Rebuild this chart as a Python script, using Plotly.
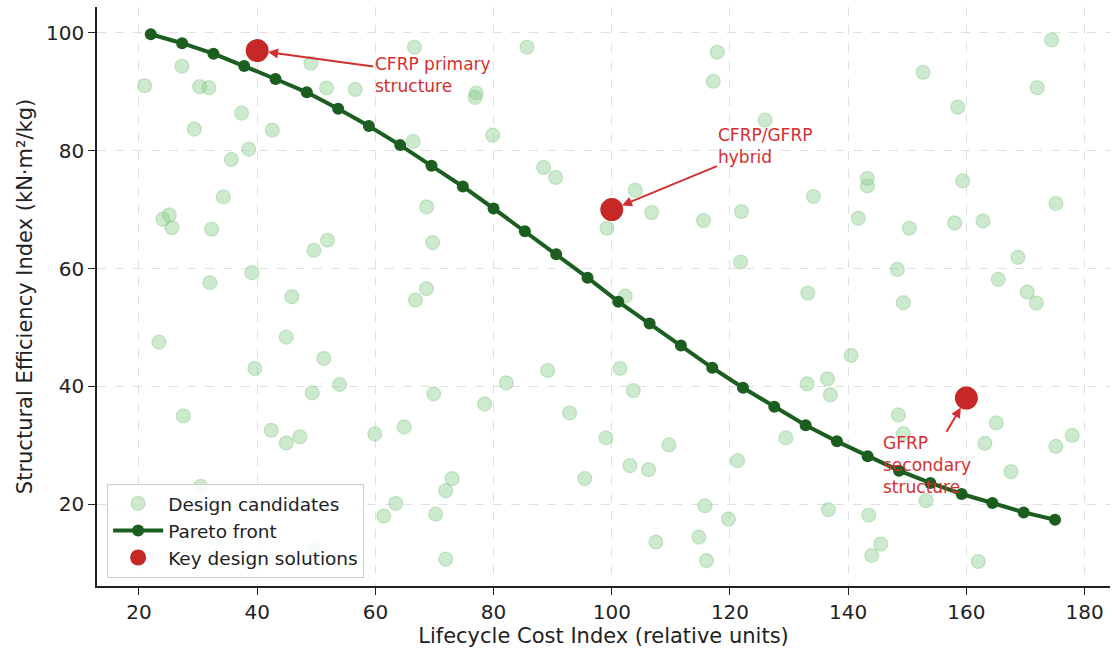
import plotly.graph_objects as go

# Design candidates: lifecycle cost vs structural efficiency
cand_cost = [
    20.96, 27.27, 30.26, 31.83, 37.36, 29.37, 42.55, 38.55, 35.62, 34.27,
    24.06, 25.14, 25.58, 32.29, 49.59, 51.90, 39.10, 32.00, 45.87, 49.08,
    51.73, 23.38, 44.92, 51.28, 39.61, 53.93, 49.32, 27.51, 42.38, 44.92,
    47.22, 30.43, 49.70, 66.61, 85.66, 56.59, 77.04, 76.87, 79.85, 66.39,
    88.47, 90.50, 68.69, 69.70, 68.64, 66.78, 69.87, 82.16, 89.15, 78.50,
    92.87, 59.90, 64.87, 72.98, 71.90, 95.43, 63.45, 61.42, 70.21, 71.90,
    117.84, 117.17, 125.95, 103.97, 106.73, 115.52, 121.94, 134.12, 99.19, 121.78,
    133.17, 102.28, 101.39, 103.64, 99.02, 109.67, 103.08, 106.22, 121.27, 133.05,
    136.49, 136.99, 129.45, 140.49, 115.76, 119.75, 107.47, 114.74, 116.03, 136.65,
    174.42, 152.66, 171.99, 158.53, 143.25, 143.25, 159.37, 141.72, 150.35, 158.02,
    162.81, 175.15, 168.72, 148.32, 165.39, 170.30, 171.82, 149.33, 148.49, 149.33,
    165.05, 163.14, 177.90, 175.15, 167.54, 153.17, 143.48, 145.51, 143.99, 162.01,
]
cand_eff = [
    91.04, 94.34, 90.87, 90.70, 86.39, 83.67, 83.50, 80.27, 78.52, 72.16,
    68.37, 69.10, 66.96, 66.67, 63.10, 64.80, 59.30, 57.60, 55.22, 94.85,
    90.65, 47.50, 48.35, 44.73, 43.03, 40.31, 38.89, 34.98, 32.53, 30.39,
    31.41, 23.01, 12.24, 97.57, 97.57, 90.43, 89.80, 89.06, 82.65, 81.58,
    77.16, 75.46, 70.46, 64.40, 56.58, 54.64, 38.72, 40.59, 42.69, 37.02,
    35.49, 31.92, 33.11, 24.32, 22.28, 24.35, 20.12, 17.98, 18.32, 10.66,
    96.72, 91.79, 85.20, 73.30, 69.51, 68.15, 69.68, 72.23, 66.84, 61.11,
    55.83, 55.32, 43.03, 39.29, 31.24, 30.05, 26.53, 25.85, 27.38, 40.43,
    41.28, 38.56, 31.24, 45.24, 19.73, 17.47, 13.56, 14.40, 10.42, 19.05,
    98.81, 93.32, 90.70, 87.41, 75.29, 74.03, 74.88, 68.54, 66.84, 67.74,
    68.08, 71.04, 61.90, 59.86, 58.16, 56.00, 54.13, 54.20, 35.15, 31.97,
    33.79, 30.32, 31.68, 29.81, 25.51, 20.58, 18.15, 13.22, 11.28, 10.26,
]

# Pareto-optimal front
pareto_cost = [
    22.0, 27.3, 32.6, 37.8, 43.1, 48.4, 53.7, 58.9, 64.2, 69.5,
    74.8, 80.0, 85.3, 90.6, 95.9, 101.1, 106.4, 111.7, 117.0, 122.2,
    127.5, 132.8, 138.1, 143.3, 148.6, 153.9, 159.2, 164.4, 169.7, 175.0,
]
pareto_eff = [
    99.78, 98.25, 96.48, 94.39, 92.18, 89.91, 87.12, 84.18, 80.95, 77.43,
    73.93, 70.19, 66.33, 62.41, 58.45, 54.37, 50.68, 46.94, 43.15, 39.75,
    36.52, 33.39, 30.66, 28.11, 25.68, 23.59, 21.72, 20.19, 18.59, 17.35,
]

# Highlighted solutions with their labels and label positions
key_cost = [40, 100, 160]
key_eff = [97, 70, 38]
key_labels = ["CFRP primary<br>structure", "CFRP/GFRP<br>hybrid", "GFRP<br>secondary<br>structure"]
label_cost = [69.7, 126.0, 153.3]
label_eff = [92.9, 80.8, 26.6]

FONT = "DejaVu Sans, Verdana, sans-serif"
RED = "#c62828"
TXT_RED = "#d32f2f"
INK = "#222222"

fig = go.Figure()

fig.add_trace(go.Scatter(
    x=cand_cost, y=cand_eff, mode="markers", name="Design candidates",
    marker=dict(size=14, color="rgba(129,199,132,0.40)",
                line=dict(color="rgba(129,199,132,0.40)", width=1.2)),
    hoverinfo="skip",
))

fig.add_trace(go.Scatter(
    x=pareto_cost, y=pareto_eff, mode="lines+markers", name="Pareto front",
    line=dict(color="#1b5e20", width=4),
    marker=dict(size=12, color="#1b5e20"),
))

fig.add_trace(go.Scatter(
    x=key_cost, y=key_eff, mode="markers", name="Key design solutions",
    marker=dict(size=23, color=RED),
))

for kx, ky, txt, tx, ty in zip(key_cost, key_eff, key_labels, label_cost, label_eff):
    fig.add_annotation(
        x=kx, y=ky, xref="x", yref="y",
        ax=tx, ay=ty, axref="x", ayref="y",
        text=txt, align="left", xanchor="center", yanchor="middle",
        showarrow=True, arrowhead=2, arrowsize=1, arrowwidth=2,
        arrowcolor=TXT_RED, standoff=11,
        font=dict(family=FONT, size=17, color=TXT_RED),
    )

axis_common = dict(
    showgrid=True, gridcolor="#e0e0e0", griddash="dash", gridwidth=1,
    showline=True, linecolor=INK, linewidth=1.5, mirror=False,
    ticks="outside", ticklen=7, tickcolor=INK, tickwidth=1.2,
    zeroline=False,
    tickfont=dict(family=FONT, size=20, color=INK),
)

fig.update_xaxes(
    range=[12.9, 184.3], tickvals=[20, 40, 60, 80, 100, 120, 140, 160, 180],
    title=dict(text="Lifecycle Cost Index (relative units)",
               font=dict(family=FONT, size=21, color=INK), standoff=4),
    **axis_common,
)
fig.update_yaxes(
    range=[6.1, 104.4], tickvals=[20, 40, 60, 80, 100],
    title=dict(text="Structural Efficiency Index (kN·m²/kg)",
               font=dict(family=FONT, size=21, color=INK), standoff=8),
    **axis_common,
)

fig.update_layout(
    width=1112, height=653,
    margin=dict(l=97, r=2, t=7, b=67),
    paper_bgcolor="white", plot_bgcolor="white",
    font=dict(family=FONT, size=18, color=INK),
    showlegend=True,
    legend=dict(
        x=0.01, y=0.014, xanchor="left", yanchor="bottom",
        bgcolor="rgba(255,255,255,0.85)", bordercolor="#cccccc", borderwidth=1,
        font=dict(family=FONT, size=18.5, color=INK),
        tracegroupgap=0, itemwidth=50,
    ),
)

fig.write_html("out.html")
